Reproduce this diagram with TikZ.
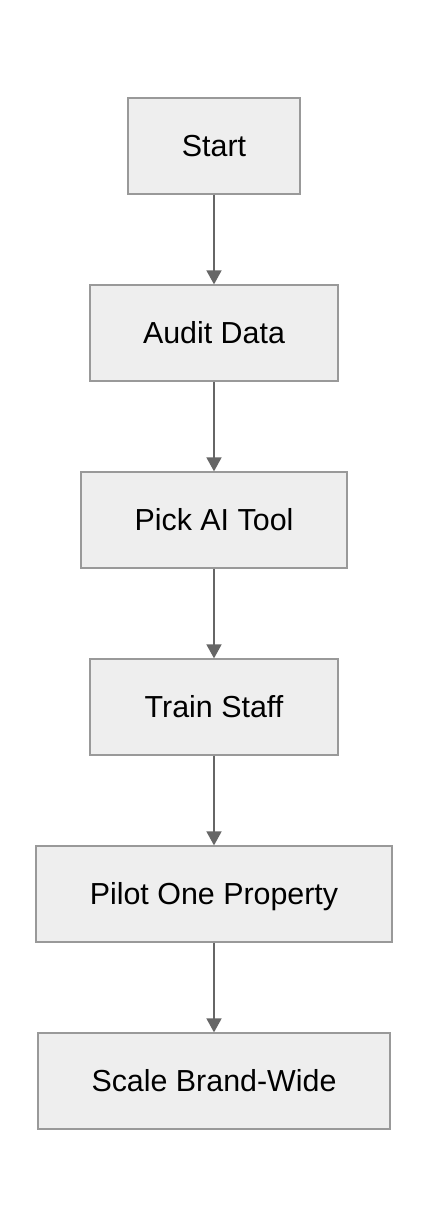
\documentclass[tikz,border=0pt]{standalone}
\usepackage{fontspec}
\setmainfont{Liberation Sans}
\usetikzlibrary{arrows.meta}
\definecolor{boxfill}{HTML}{EEEEEE}
\definecolor{boxline}{HTML}{999999}
\definecolor{arrowc}{HTML}{666666}
\begin{document}
\begin{tikzpicture}[x=1pt,y=1pt,
  stepbox/.style={draw=boxline,fill=boxfill,line width=1.3pt,minimum height=96pt,inner sep=0pt,
    text height=21.8pt,text depth=0pt,
    font=\fontsize{30.4}{36}\selectfont,text=black},
  flow/.style={draw=arrowc,line width=1.8pt,-{Triangle[length=14pt,width=15pt]}}]
\useasboundingbox (0,0) rectangle (428,-1228);
\fill[white] (0,0) rectangle (428,-1228);
\node[stepbox,minimum width=172pt] (s) at (214,-146) {Start};
\node[stepbox,minimum width=248pt] (a) at (214,-333) {Audit Data};
\node[stepbox,minimum width=266pt] (p) at (214,-520) {Pick AI Tool};
\node[stepbox,minimum width=248pt] (t) at (214,-707) {Train Staff};
\node[stepbox,minimum width=356pt] (o) at (214,-894) {Pilot One Property};
\node[stepbox,minimum width=352pt] (b) at (214,-1081) {Scale Brand-Wide};
\draw[flow] (s) -- (a);
\draw[flow] (a) -- (p);
\draw[flow] (p) -- (t);
\draw[flow] (t) -- (o);
\draw[flow] (o) -- (b);
\end{tikzpicture}
\end{document}
